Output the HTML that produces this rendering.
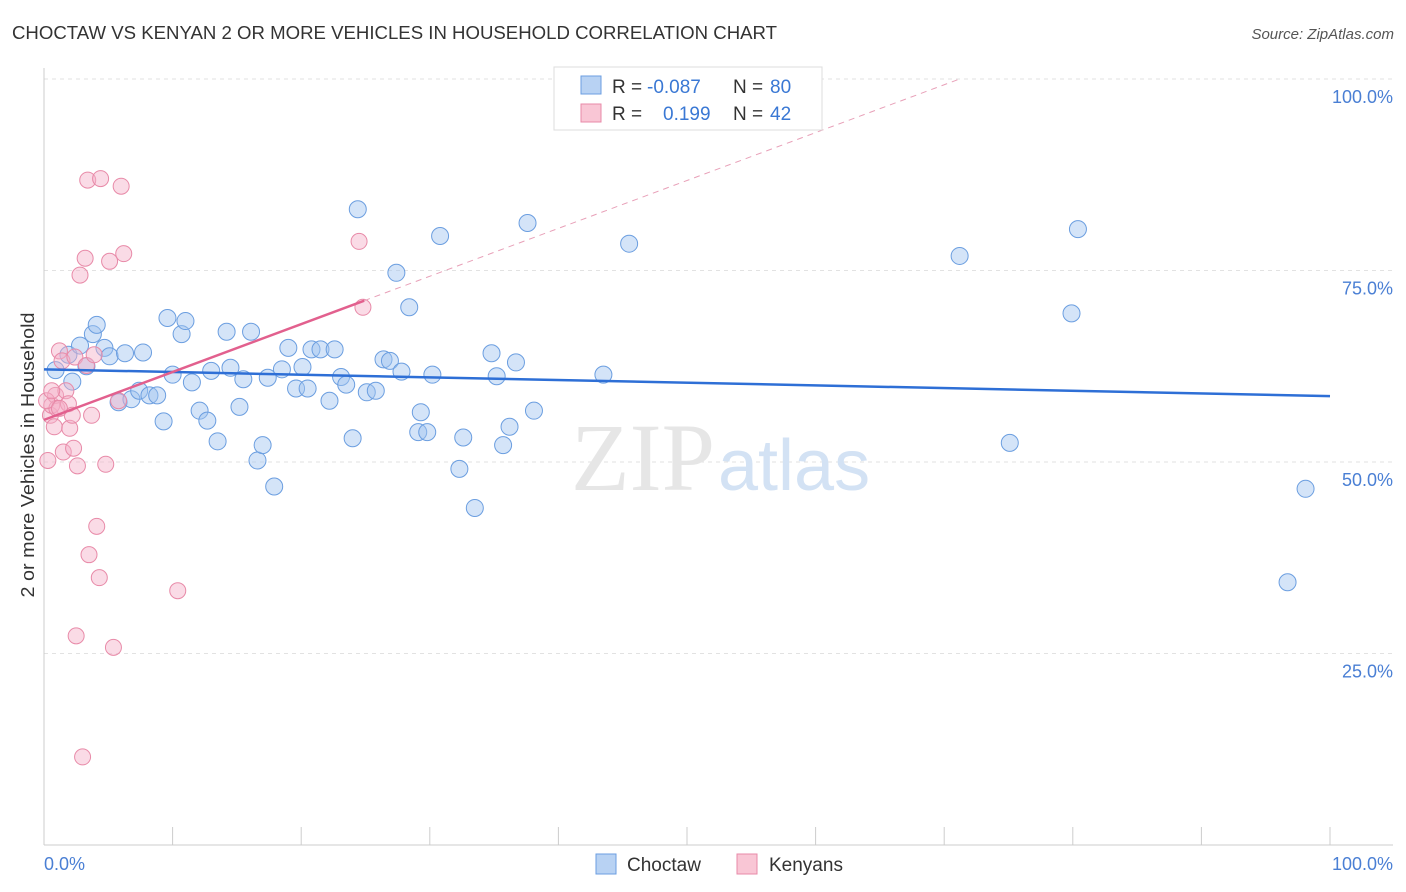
<!DOCTYPE html>
<html><head><meta charset="utf-8">
<style>
body{margin:0;background:#fff;font-family:"Liberation Sans",sans-serif;}
#wrap{position:relative;width:1406px;height:892px;overflow:hidden;}
</style></head>
<body>
<div id="wrap">
<svg id="chart" width="1406" height="892">
<text x="12" y="39" font-size="18" fill="#333" textLength="765" lengthAdjust="spacingAndGlyphs">CHOCTAW VS KENYAN 2 OR MORE VEHICLES IN HOUSEHOLD CORRELATION CHART</text>
<text x="1394" y="39" font-size="15" fill="#555" text-anchor="end" font-style="italic">Source: ZipAtlas.com</text>
<g id="grid"></g>
<text x="715" y="490" font-size="96" font-family="Liberation Serif,serif" fill="#e6e6e6" text-anchor="end">ZIP</text>
<text x="718" y="490" font-size="72" fill="#d3e2f4">atlas</text>
<g id="marks"></g>
<text x="34" y="455" font-size="18" fill="#333" text-anchor="middle" textLength="285" lengthAdjust="spacingAndGlyphs" transform="rotate(-90 34 455)">2 or more Vehicles in Household</text>
<text x="44" y="870" font-size="18" fill="#4a7fd4">0.0%</text>
<text x="1393" y="870" font-size="18" fill="#4a7fd4" text-anchor="end">100.0%</text>
<g>
<rect x="554" y="67" width="268" height="63" fill="#fff" stroke="#ddd"/>
<rect x="581" y="76" width="20" height="18" fill="#b8d2f3" stroke="#6b9ee0"/>
<rect x="581" y="104" width="20" height="18" fill="#f9c6d5" stroke="#e88aa8"/>
<text x="612" y="93" font-size="19" fill="#333">R = </text><text x="647" y="93" font-size="19" fill="#3a78d4">-0.087</text>
<text x="733" y="93" font-size="19" fill="#333">N = </text><text x="770" y="93" font-size="19" fill="#3a78d4">80</text>
<text x="612" y="120" font-size="19" fill="#333">R = </text><text x="663" y="120" font-size="19" fill="#3a78d4">0.199</text>
<text x="733" y="120" font-size="19" fill="#333">N = </text><text x="770" y="120" font-size="19" fill="#3a78d4">42</text>
</g>
<g>
<rect x="596" y="854" width="20" height="20" fill="#b8d2f3" stroke="#6b9ee0"/>
<text x="627" y="871" font-size="19" fill="#333">Choctaw</text>
<rect x="737" y="854" width="20" height="20" fill="#f9c6d5" stroke="#e88aa8"/>
<text x="769" y="871" font-size="19" fill="#333">Kenyans</text>
</g>
</svg>
</div>
<script>
const yTicks=[25,50,75,100];
const yTickLabels=["25.0%","50.0%","75.0%","100.0%"];
const choctawX=[0.9,1.9,2.2,2.8,3.3,3.8,4.1,4.7,5.1,5.8,6.3,6.8,7.4,7.7,8.2,8.8,9.3,9.6,10.0,10.7,11.0,11.5,12.1,12.7,13.0,13.5,14.2,14.5,15.2,15.5,16.1,16.6,17.0,17.4,17.9,18.5,19.0,19.6,20.1,20.5,20.8,21.5,22.6,22.2,23.1,23.5,24.0,24.4,25.1,25.8,26.4,26.9,27.4,27.8,28.4,29.1,29.3,29.8,30.2,30.8,32.3,32.6,33.5,34.8,35.2,35.7,36.2,36.7,37.6,38.1,43.5,45.5,71.2,75.1,79.9,80.4,96.7,98.1];
const choctawY=[62.0,64.0,60.5,65.2,62.5,66.7,67.9,64.9,63.8,57.8,64.2,58.2,59.3,64.3,58.7,58.7,55.3,68.8,61.4,66.7,68.4,60.4,56.7,55.4,61.9,52.7,67.0,62.3,57.2,60.8,67.0,50.2,52.2,61.0,46.8,62.1,64.9,59.6,62.4,59.6,64.7,64.7,64.7,58.0,61.1,60.1,53.1,83.0,59.1,59.3,63.4,63.2,74.7,61.8,70.2,53.9,56.5,53.9,61.4,79.5,49.1,53.2,44.0,64.2,61.2,52.2,54.6,63.0,81.2,56.7,61.4,78.5,76.9,52.5,69.4,80.4,34.3,46.5];
const kenyanX=[0.3,0.5,0.6,0.8,0.9,1.0,1.2,1.4,1.5,1.7,1.9,2.0,2.2,2.3,2.4,2.6,2.5,2.8,3.0,3.2,3.3,3.4,3.5,3.7,3.9,4.1,4.3,4.4,4.8,5.1,5.4,5.8,6.0,6.2,10.4,24.5,24.8,0.2,0.6,1.2];
const kenyanY=[50.2,56.1,57.4,54.6,58.7,57.0,64.5,63.2,51.3,59.3,57.6,54.4,56.1,51.8,63.7,49.5,27.3,74.4,11.5,76.6,62.6,86.8,37.9,56.1,64.0,41.6,34.9,87.0,49.7,76.2,25.8,58.0,86.0,77.2,33.2,78.8,70.2,58.0,59.3,57.0];
const trendIntercept=[62.1,55.5];
const trendSlope=[-0.035,0.625];
const pinkSolidEnd=24.9;

const X0=44,X1=1330,YB=845,YT=79;
const sx=v=>X0+(X1-X0)*v/100;
const sy=v=>YB-(YB-YT)*v/100;
const NS="http://www.w3.org/2000/svg";
function mk(tag,attrs,parent){const e=document.createElementNS(NS,tag);for(const k in attrs)e.setAttribute(k,attrs[k]);parent.appendChild(e);return e;}
const grid=document.getElementById('grid'),marks=document.getElementById('marks');
yTicks.forEach((t,i)=>{
  const l=mk('line',{x1:X0,x2:1393,y1:sy(t),y2:sy(t),stroke:'#e2e2e2','stroke-dasharray':'4,4'},grid);
  
  
  const tx=mk('text',{x:1393,y:sy(t)+24,'font-size':18,fill:'#4a7fd4','text-anchor':'end'},grid);
  tx.textContent=yTickLabels[i];
  
  
});
const ax=mk('line',{x1:X0,x2:X0,y1:68,y2:YB,stroke:'#ccc'},grid);


const bx=mk('line',{x1:X0,x2:1393,y1:YB,y2:YB,stroke:'#ccc'},grid);


for(let i=0;i<=10;i++){
  const t=mk('line',{x1:sx(i*10),x2:sx(i*10),y1:YB,y2:YB-18,stroke:'#ccc'},grid);
  
  
}
choctawX.forEach((v,i)=>{
  const c=mk('circle',{cx:sx(v),cy:sy(choctawY[i]),r:8.5,fill:'rgba(160,195,240,0.45)',stroke:'#6b9ee0','stroke-width':1},marks);
  
  
});
kenyanX.forEach((v,i)=>{
  const c=mk('circle',{cx:sx(v),cy:sy(kenyanY[i]),r:8,fill:'rgba(245,175,200,0.45)',stroke:'#e88aa8','stroke-width':1},marks);
  
  
});
const bt=mk('line',{x1:sx(0),y1:sy(trendIntercept[0]),x2:sx(100),y2:sy(trendIntercept[0]+trendSlope[0]*100),stroke:'#2e6fd6','stroke-width':2.5},marks);


const xEnd=(100-trendIntercept[1])/trendSlope[1];
const pd=mk('line',{x1:sx(pinkSolidEnd),y1:sy(trendIntercept[1]+trendSlope[1]*pinkSolidEnd),x2:sx(xEnd),y2:sy(100),stroke:'#e8a0b8','stroke-width':1,'stroke-dasharray':'6,5'},marks);


const pt=mk('line',{x1:sx(0),y1:sy(trendIntercept[1]),x2:sx(pinkSolidEnd),y2:sy(trendIntercept[1]+trendSlope[1]*pinkSolidEnd),stroke:'#e2608e','stroke-width':2.5},marks);


</script>
</body></html>
